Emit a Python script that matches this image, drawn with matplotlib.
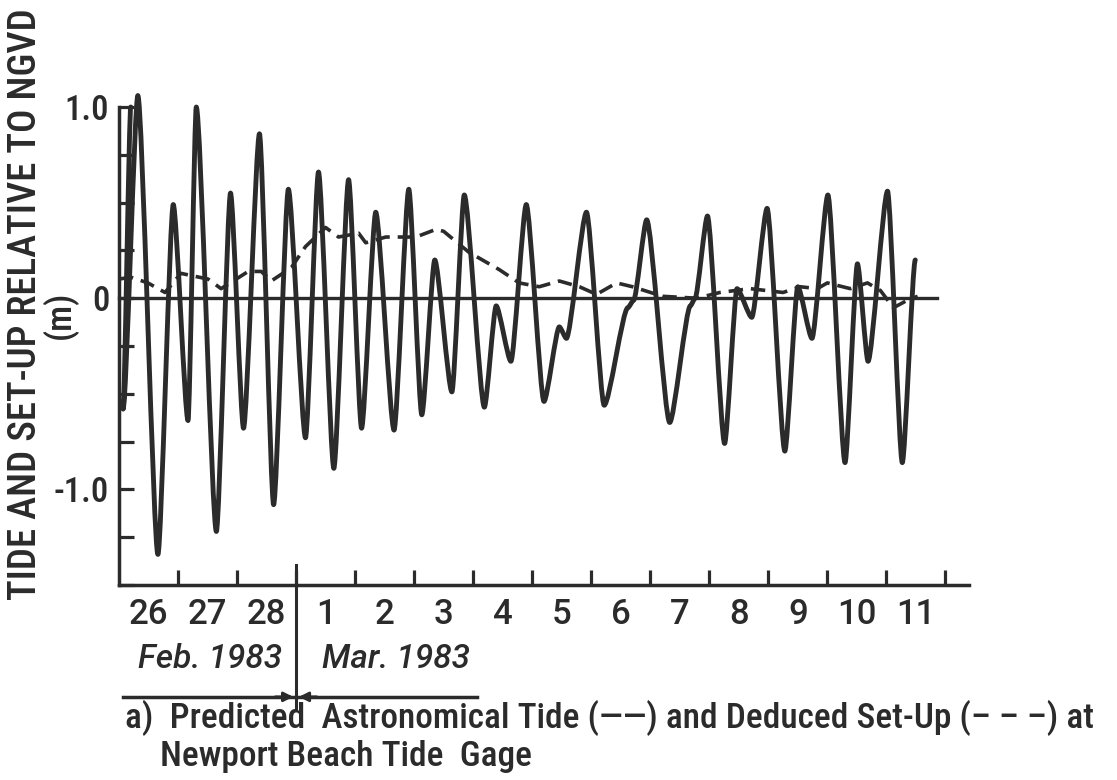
import matplotlib
matplotlib.use("Agg")
import matplotlib.pyplot as plt
from matplotlib.path import Path
from matplotlib.patches import PathPatch
from matplotlib import font_manager

# ---- data (days since 26 Feb 1983 00:00) ----
tide_t = [0.20, 0.07, 0.32, 0.66, 0.92, 1.17, 1.31, 1.65, 1.89, 2.11, 2.38, 2.62, 2.87,
          3.16, 3.38, 3.64, 3.89, 4.11, 4.35, 4.66, 4.91, 5.13, 5.35, 5.64, 5.85,
          6.19, 6.39, 6.64, 6.90, 7.20, 7.46, 7.58, 7.92, 8.22, 8.62, 8.72, 8.94,
          9.33, 9.68, 9.76, 9.97,
          10.26, 10.47, 10.72, 10.98, 11.28, 11.50, 11.74, 12.01, 12.30, 12.51,
          12.69, 13.02, 13.27, 13.49]
tide_v = [1.00, -0.58, 1.06, -1.34, 0.49, -0.64, 1.00, -1.22, 0.55, -0.68, 0.86, -1.08, 0.57,
          -0.73, 0.66, -0.89, 0.62, -0.68, 0.45, -0.69, 0.57, -0.61, 0.20, -0.49, 0.54,
          -0.57, -0.04, -0.33, 0.49, -0.54, -0.15, -0.21, 0.45, -0.56, -0.05, -0.01, 0.41,
          -0.65, -0.04, 0.00, 0.43,
          -0.76, 0.05, -0.10, 0.47, -0.80, 0.06, -0.21, 0.54, -0.86, 0.18,
          -0.33, 0.56, -0.86, 0.20]

setup_t = [0.00, 0.20, 0.49, 0.78, 1.05, 1.51, 1.73, 2.19, 2.41, 2.58, 2.92, 3.16,
           3.50, 3.72, 4.06, 4.18, 4.52, 5.03, 5.37, 5.50, 5.93, 6.44, 6.78, 7.12,
           7.46, 7.80, 8.09, 8.43, 8.70, 9.21, 9.79, 10.18, 10.69, 11.25, 11.54,
           11.83, 12.00, 12.39, 12.68, 12.90, 13.12, 13.36, 13.53]
setup_v = [0.10, 0.11, 0.08, 0.03, 0.13, 0.10, 0.05, 0.14, 0.14, 0.09, 0.16, 0.27,
           0.37, 0.32, 0.34, 0.29, 0.32, 0.32, 0.36, 0.35, 0.24, 0.15, 0.08, 0.06,
           0.09, 0.06, 0.02, 0.08, 0.06, 0.01, 0.00, 0.03, 0.05, 0.03, 0.06,
           0.05, 0.08, 0.05, 0.08, 0.04, -0.05, -0.01, 0.01]

day_labels = ["26", "27", "28", "1", "2", "3", "4", "5", "6", "7", "8", "9", "10", "11"]
ytick_vals = [-1.5, -1.25, -1.0, -0.75, -0.5, -0.25, 0.0, 0.25, 0.5, 0.75, 1.0]
ytick_labels = ["", "", "-1.0", "", "", "", "0", "", "", "", "1.0"]

INK = "#2b2b2b"
available = {f.name for f in font_manager.fontManager.ttflist}
def pick(cands):
    return next((n for n in cands if n in available), "DejaVu Sans")
COND = pick(["Roboto Condensed", "Archivo Narrow", "PT Sans Narrow", "DejaVu Sans"])
REG = pick(["Roboto", "Open Sans", "DejaVu Sans"])
plt.rcParams['font.family'] = [COND, 'DejaVu Sans']
W = "medium"

fig = plt.figure(figsize=(11.17, 7.80), dpi=100)
fig.patch.set_facecolor("white")
ax = fig.add_axes([0.1065, 0.25, 0.761, 0.6128])
ax.set_xlim(0, 14.4)
ax.set_ylim(-1.5, 1.0)

# tide curve: smooth bezier segments through the extrema
verts = [(tide_t[0], tide_v[0])]
codes = [Path.MOVETO]
for i in range(len(tide_t) - 1):
    t0, v0, t1, v1 = tide_t[i], tide_v[i], tide_t[i + 1], tide_v[i + 1]
    d = (t1 - t0) * 0.22
    verts += [(t0 + d, v0), (t1 - d, v1), (t1, v1)]
    codes += [Path.CURVE4] * 3
ax.add_patch(PathPatch(Path(verts, codes), fill=False, lw=3.5, ec=INK,
                       clip_on=False, capstyle='round', joinstyle='round'))

# set-up dashed
ax.plot(setup_t, setup_v, color=INK, lw=2.6, dashes=(4, 2.2), clip_on=False)

# zero line
ax.plot([0, 13.85], [0, 0], color=INK, lw=2.4, clip_on=False)

# spines
for s in ["top", "right"]:
    ax.spines[s].set_visible(False)
for s in ["left", "bottom"]:
    ax.spines[s].set_linewidth(2.5)
    ax.spines[s].set_color(INK)

# ticks
ax.set_xticks(list(range(1, 15)))
ax.set_xticklabels([])
ax.set_xticks([i + 0.5 for i in range(14)], minor=True)
ax.set_xticklabels(day_labels, minor=True, fontsize=25, color=INK,
                   fontweight=W, family=[REG, 'DejaVu Sans'])
ax.tick_params(axis='x', which='major', direction='in', length=11, width=2.3, color=INK)
ax.tick_params(axis='x', which='minor', length=0, pad=9)

ax.set_yticks(ytick_vals)
ax.set_yticklabels(ytick_labels, fontsize=25, color=INK, fontweight=W)
ax.tick_params(axis='y', which='major', direction='in', length=11, width=2.3,
               color=INK, pad=7)

# month divider and labels
xtr = ax.get_xaxis_transform()
ax.plot([3.0, 3.0], [0.042, -0.257], transform=xtr, color=INK, lw=2.2, clip_on=False)
ax.plot([0.07, 6.07], [-0.234, -0.234], transform=xtr, color=INK, lw=2.5, clip_on=False)
ax.annotate("", xy=(3.0, -0.234), xytext=(2.6, -0.234), xycoords=xtr, textcoords=xtr,
            arrowprops=dict(arrowstyle="-|>", color=INK, lw=2, mutation_scale=14))
ax.annotate("", xy=(3.0, -0.234), xytext=(3.4, -0.234), xycoords=xtr, textcoords=xtr,
            arrowprops=dict(arrowstyle="-|>", color=INK, lw=2, mutation_scale=14))
ax.text(1.55, -0.155, "Feb. 1983", transform=xtr, ha="center", va="center",
        fontsize=24, style="italic", color=INK, fontweight=W, family=[REG, 'DejaVu Sans'])
ax.text(4.69, -0.155, "Mar. 1983", transform=xtr, ha="center", va="center",
        fontsize=24, style="italic", color=INK, fontweight=W, family=[REG, 'DejaVu Sans'])

# y-axis label
fig.text(26 / 1117, 1 - 304 / 780, "TIDE AND SET-UP RELATIVE TO NGVD", rotation=90,
         ha="center", va="center", fontsize=28, color=INK, fontweight=W)
fig.text(60 / 1117, 1 - 315 / 780, "(m)", rotation=90,
         ha="center", va="center", fontsize=25, color=INK, fontweight=W)

# caption
fig.text(125 / 1117, 1 - 728 / 780,
         "a)  Predicted  Astronomical Tide (——) and Deduced Set-Up (– – –) at",
         ha="left", va="baseline", fontsize=25.5, color=INK, fontweight=W)
fig.text(160 / 1117, 1 - 766 / 780, "Newport Beach Tide  Gage",
         ha="left", va="baseline", fontsize=25.5, color=INK, fontweight=W)

fig.savefig("out.png", dpi=100, facecolor="white")
